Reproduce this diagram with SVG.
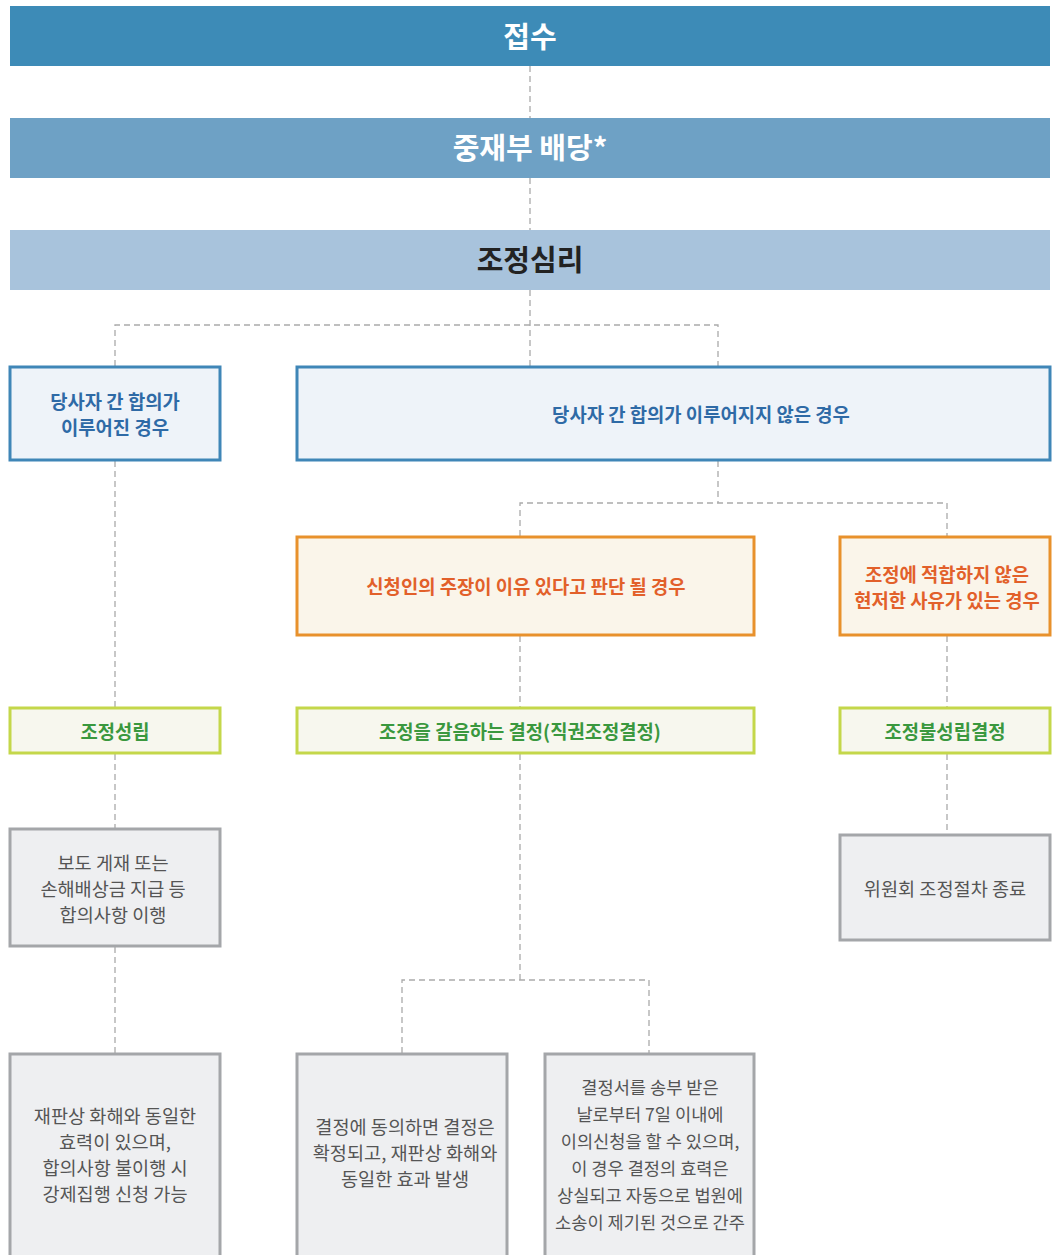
<svg xmlns="http://www.w3.org/2000/svg" width="1053" height="1255" viewBox="0 0 1053 1255">
<style>
text{font-family:"Noto Sans CJK KR","Noto Sans",sans-serif;text-anchor:middle;dominant-baseline:central}
.bar1{fill:#3d8bb7}.bar2{fill:#6ea1c5}.bar3{fill:#a8c3dc}
.bt{font-size:29px;font-weight:700;fill:#fff}
.bt3{font-size:29px;font-weight:700;fill:#222}
.blue{fill:#eef3f9;stroke:#3f86b7;stroke-width:3}
.bluet{font-size:18.8px;font-weight:700;fill:#2e6aa6}
.orange{fill:#faf5ea;stroke:#e8912c;stroke-width:3}
.oranget{font-size:18.8px;font-weight:700;fill:#e2602a}
.green{fill:#f7f7ee;stroke:#c4d74a;stroke-width:3}
.greent{font-size:18.8px;font-weight:700;fill:#3a983e}
.gray{fill:#eeeff1;stroke:#a4a6a9;stroke-width:3}
.grayt{font-size:18.6px;fill:#555}
.grays{font-size:17.6px}
.conn{fill:none;stroke:#aaa;stroke-width:1.3;stroke-dasharray:6 4}
</style>
<g id="connectors">
<path class="conn" d="M530 66V118M530 178V230M530 290V366"/>
<path class="conn" d="M115 366V325H718V366"/>
<path class="conn" d="M718 461V503M520 536V503H947V536"/>
<path class="conn" d="M115 461V707M115 754V828M115 947V1053"/>
<path class="conn" d="M520 636V707M947 636V707M947 754V834"/>
<path class="conn" d="M520 754V980M402 1053V980H649V1053"/>
</g>
<g id="n-jeopsu"><rect class="bar1" x="10" y="6" width="1040" height="60"/><text class="bt" x="530" y="35">접수</text></g>
<g id="n-baedang"><rect class="bar2" x="10" y="118" width="1040" height="60"/><text class="bt" x="530" y="146">중재부 배당*</text></g>
<g id="n-simri"><rect class="bar3" x="10" y="230" width="1040" height="60"/><text class="bt3" x="530" y="258">조정심리</text></g>
<g id="n-agree"><rect class="blue" x="10" y="367" width="210" height="93"/><text class="bluet" x="115" y="400">당사자 간 합의가</text><text class="bluet" x="115" y="426">이루어진 경우</text></g>
<g id="n-noagree"><rect class="blue" x="297" y="367" width="753" height="93"/><text class="bluet" x="701" y="413">당사자 간 합의가 이루어지지 않은 경우</text></g>
<g id="n-reason"><rect class="orange" x="297" y="537" width="457" height="98"/><text class="oranget" x="526" y="585">신청인의 주장이 이유 있다고 판단 될 경우</text></g>
<g id="n-unfit"><rect class="orange" x="840" y="537" width="210" height="98"/><text class="oranget" x="947" y="573">조정에 적합하지 않은</text><text class="oranget" x="947" y="599">현저한 사유가 있는 경우</text></g>
<g id="n-seongrip"><rect class="green" x="10" y="708" width="210" height="45"/><text class="greent" x="115" y="730">조정성립</text></g>
<g id="n-jikgwon"><rect class="green" x="297" y="708" width="457" height="45"/><text class="greent" x="520" y="730">조정을 갈음하는 결정(직권조정결정)</text></g>
<g id="n-bulseongrip"><rect class="green" x="840" y="708" width="210" height="45"/><text class="greent" x="945" y="730">조정불성립결정</text></g>
<g id="n-ihaeng"><rect class="gray" x="10" y="829" width="210" height="117"/><text class="grayt" x="113" y="861">보도 게재 또는</text><text class="grayt" x="113" y="887">손해배상금 지급 등</text><text class="grayt" x="113" y="913">합의사항 이행</text></g>
<g id="n-end"><rect class="gray" x="840" y="835" width="210" height="105"/><text class="grayt" x="945" y="887">위원회 조정절차 종료</text></g>
<g id="n-hwahae"><rect class="gray" x="10" y="1054" width="210" height="220"/><text class="grayt" x="115" y="1114">재판상 화해와 동일한</text><text class="grayt" x="115" y="1140">효력이 있으며,</text><text class="grayt" x="115" y="1166">합의사항 불이행 시</text><text class="grayt" x="115" y="1192">강제집행 신청 가능</text></g>
<g id="n-dongui"><rect class="gray" x="297" y="1054" width="210" height="220"/><text class="grayt" x="405" y="1125">결정에 동의하면 결정은</text><text class="grayt" x="405" y="1151">확정되고, 재판상 화해와</text><text class="grayt" x="405" y="1177">동일한 효과 발생</text></g>
<g id="n-iui"><rect class="gray" x="545" y="1054" width="209" height="220"/><text class="grayt grays" x="650" y="1086">결정서를 송부 받은</text><text class="grayt grays" x="650" y="1113">날로부터 7일 이내에</text><text class="grayt grays" x="650" y="1140">이의신청을 할 수 있으며,</text><text class="grayt grays" x="650" y="1167">이 경우 결정의 효력은</text><text class="grayt grays" x="650" y="1194">상실되고 자동으로 법원에</text><text class="grayt grays" x="650" y="1221">소송이 제기된 것으로 간주</text></g>
</svg>
